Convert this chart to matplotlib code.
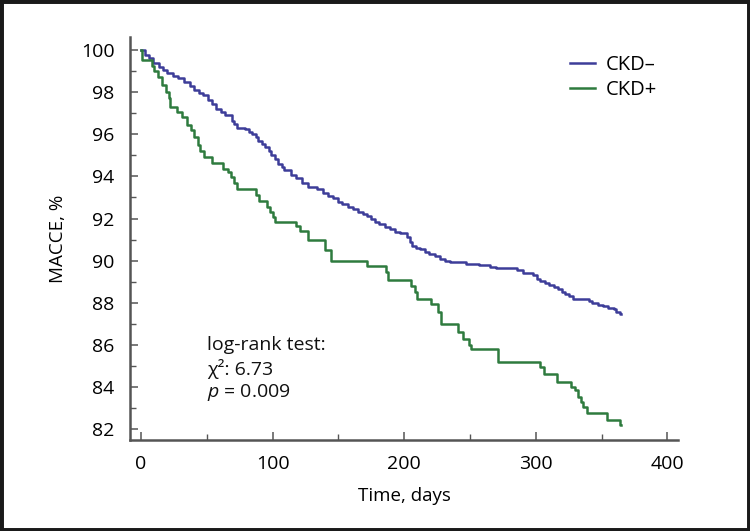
import matplotlib
matplotlib.use("Agg")
import matplotlib.pyplot as plt
from matplotlib.patches import Rectangle
from matplotlib.ticker import MultipleLocator

plt.rcParams['font.family'] = ['Open Sans', 'DejaVu Sans']
plt.rcParams['mathtext.fontset'] = 'custom'
plt.rcParams['mathtext.rm'] = 'Open Sans'
plt.rcParams['mathtext.it'] = 'Open Sans:italic'

# Kaplan-Meier steps (day, % event-free after step)
ckd_neg_days = [0, 3, 6, 9, 14, 17, 20, 24, 28, 33, 37, 40, 44, 47, 51, 54, 57, 61, 64,
                69, 71, 73, 79, 82, 84, 87, 89, 92, 94, 97, 99, 102, 104, 107, 109, 114,
                118, 122, 127, 134, 138, 142, 146, 150, 153, 157, 161, 165, 169, 172,
                175, 178, 181, 185, 189, 193, 197, 202, 204, 206, 209, 212, 216, 219,
                223, 227, 231, 235, 247, 257, 265, 270, 286, 290, 298, 301, 303, 307,
                310, 314, 317, 320, 322, 325, 328, 340, 343, 347, 351, 355, 359, 361,
                364, 365]
ckd_neg_vals = [100, 99.75, 99.6, 99.4, 99.2, 99.05, 98.9, 98.75, 98.65, 98.5, 98.3, 98.1,
                97.95, 97.85, 97.6, 97.45, 97.2, 97.05, 96.9, 96.65, 96.5, 96.3, 96.25,
                96.1, 96.0, 95.85, 95.7, 95.55, 95.4, 95.2, 95.0, 94.8, 94.6, 94.45, 94.3,
                94.05, 93.9, 93.7, 93.5, 93.4, 93.2, 93.05, 92.95, 92.8, 92.7, 92.55,
                92.45, 92.3, 92.2, 92.1, 92.0, 91.85, 91.75, 91.6, 91.5, 91.35, 91.3,
                91.1, 90.9, 90.7, 90.6, 90.55, 90.4, 90.3, 90.2, 90.1, 90.0, 89.93,
                89.85, 89.77, 89.7, 89.66, 89.55, 89.4, 89.3, 89.15, 89.05, 88.95,
                88.85, 88.75, 88.65, 88.5, 88.4, 88.3, 88.2, 88.1, 88.0, 87.9, 87.83,
                87.75, 87.7, 87.55, 87.45, 87.45]

ckd_pos_days = [0, 1, 8, 10, 13, 16, 19, 21, 22, 27, 31, 35, 38, 40, 43, 45, 48, 54, 62,
                66, 68, 71, 73, 87, 90, 96, 98, 100, 102, 118, 121, 127, 140, 144, 172,
                186, 188, 205, 208, 210, 220, 226, 228, 241, 245, 249, 251, 271, 303,
                306, 316, 327, 330, 332, 334, 336, 339, 354, 364, 365]
ckd_pos_vals = [100, 99.5, 99.25, 99.0, 98.7, 98.35, 98.0, 97.7, 97.3, 97.05, 96.8, 96.45,
                96.2, 95.85, 95.5, 95.2, 94.9, 94.65, 94.35, 94.2, 93.95, 93.7, 93.4,
                93.1, 92.85, 92.55, 92.3, 92.05, 91.85, 91.65, 91.4, 91.0, 90.5, 90.0,
                89.75, 89.45, 89.1, 88.8, 88.5, 88.2, 87.95, 87.55, 87.0, 86.6, 86.3,
                86.0, 85.8, 85.2, 84.95, 84.6, 84.25, 84.0, 83.85, 83.55, 83.3, 83.05,
                82.75, 82.45, 82.2, 82.2]

series_labels = ['CKD\u2013', 'CKD+']
annot_lines = ['log-rank test:', '\u03c7\u00b2: 6.73', '$p$ = 0.009']

fig = plt.figure(figsize=(7.5, 5.31), dpi=100)
ax = fig.add_axes([0.1733, 0.171, 0.7307, 0.760])

ax.plot(ckd_neg_days, ckd_neg_vals, drawstyle='steps-post', color='#3d3d99', lw=1.8,
        label=series_labels[0])
ax.plot(ckd_pos_days, ckd_pos_vals, drawstyle='steps-post', color='#2e7b3e', lw=1.8,
        label=series_labels[1])

ax.set_xlim(-8.4, 408)
ax.set_ylim(81.48, 100.63)
ax.xaxis.set_major_locator(MultipleLocator(100))
ax.xaxis.set_minor_locator(MultipleLocator(50))
ax.yaxis.set_major_locator(MultipleLocator(2))
ax.yaxis.set_minor_locator(MultipleLocator(1))

for s in ['top', 'right']:
    ax.spines[s].set_visible(False)
for s in ['left', 'bottom']:
    ax.spines[s].set_color('#555555')
    ax.spines[s].set_linewidth(1.8)

ax.tick_params(which='major', direction='in', length=6, width=1.1, color='#555555',
               labelsize=14)
ax.tick_params(which='minor', direction='in', length=4, width=1.0, color='#555555')
ax.tick_params(axis='x', pad=11)
ax.tick_params(axis='y', pad=11)

ax.set_xlabel('Time, days', fontsize=13.5, labelpad=10)
ax.set_ylabel('MACCE, %', fontsize=13.5, labelpad=10)

ax.legend(loc='upper left', bbox_to_anchor=(0.77, 1.0), frameon=False, fontsize=14.5,
          handlelength=1.25, handletextpad=0.5, labelspacing=0.25)

for y, line in zip([85.98, 84.85, 83.75], annot_lines):
    ax.text(50, y, line, fontsize=14, va='center', ha='left', color='#111111')

fig.patches.append(Rectangle((0, 0), 1, 1, transform=fig.transFigure, fill=False,
                             edgecolor='#1a1a1a', lw=5))

fig.savefig('out.png', dpi=100)
